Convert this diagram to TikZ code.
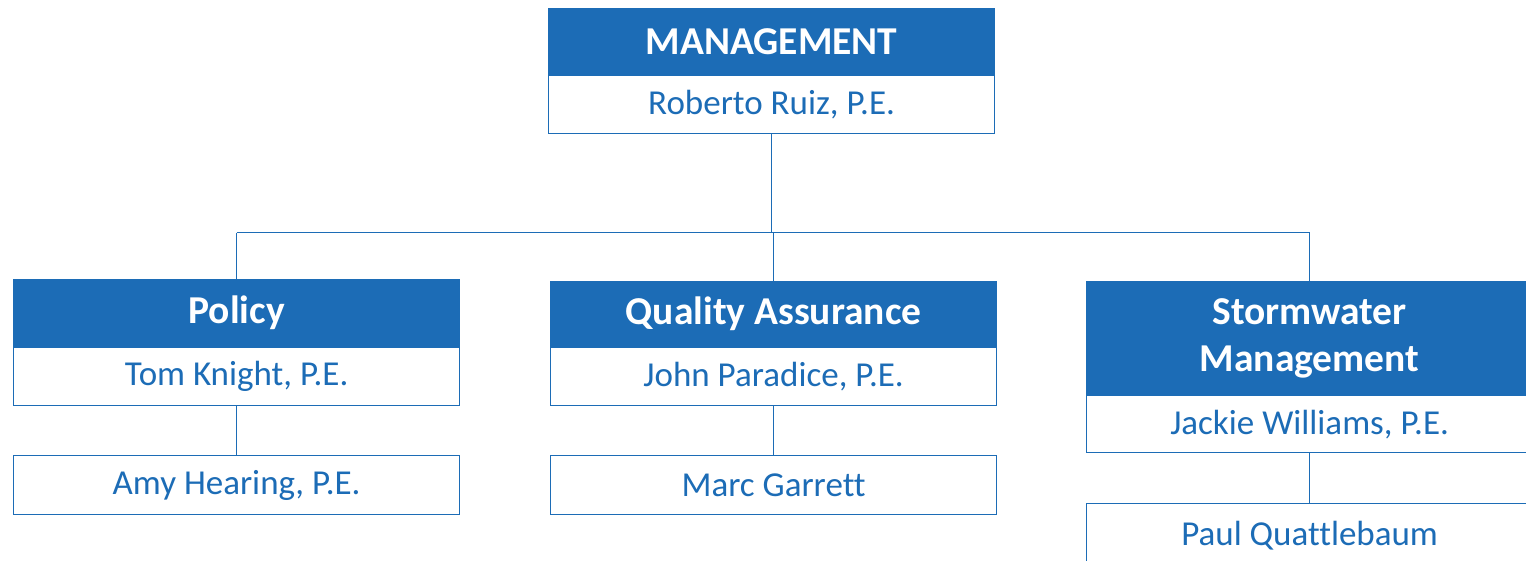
\documentclass[tikz,border=0pt]{standalone}
\usepackage{fontspec}
\setmainfont{Carlito}[Ligatures=NoCommon]
\usepackage{xcolor}
\usetikzlibrary{positioning}
\definecolor{orgblue}{RGB}{28,108,182}
\tikzset{
  headbox/.style={draw=orgblue, fill=orgblue, text=white, line width=1.2pt,
    minimum width=446pt, minimum height=66pt, inner sep=0pt, align=center,
    font=\fontsize{39.5}{47}\selectfont\bfseries},
  personbox/.style={draw=orgblue, fill=white, text=orgblue, line width=1.2pt,
    minimum width=446pt, minimum height=58pt, inner sep=0pt,
    font=\fontsize{35}{40}\selectfont},
  link/.style={draw=orgblue, line width=1pt}
}

\begin{document}
\begin{tikzpicture}[x=1pt, y=-1pt]
  \useasboundingbox (0,0) rectangle (1526,561);
  % top
  \node[headbox, anchor=north west] (mgmt) at (548,8) {MANAGEMENT};
  \node[personbox, below=0pt of mgmt] (mgmtName) {Roberto Ruiz, P.E.};
  % departments
  \node[headbox, anchor=north west, minimum height=67pt] (policy) at (13,279) {Policy};
  \node[personbox, below=0pt of policy] (policyName) {Tom Knight, P.E.};
  \node[personbox, anchor=north west, minimum height=59pt] (amy) at (13,455) {Amy Hearing, P.E.};
  \node[headbox, anchor=north west, minimum height=65pt] (qa) at (550,281) {Quality Assurance};
  \node[personbox, below=0pt of qa] (qaName) {John Paradice, P.E.};
  \node[personbox, anchor=north west, minimum height=59pt] (marc) at (550,455) {Marc Garrett};
  \node[headbox, anchor=north west, minimum height=113pt] (storm) at (1086,281) {Stormwater\\Management};
  \node[personbox, below=0pt of storm, minimum height=57pt] (stormName) {Jackie Williams, P.E.};
  \node[personbox, anchor=north west, minimum height=64pt] (paul) at (1086,503) {Paul Quattlebaum};
  % lines
  \coordinate (bus) at (0,233);
  \draw[link] (mgmtName.south) -- (mgmtName.south |- bus);
  \draw[link] (policy.north |- bus) -- (storm.north |- bus);
  \draw[link] (policy.north |- bus) -- (policy.north);
  \draw[link] (qa.north |- bus) -- (qa.north);
  \draw[link] (storm.north |- bus) -- (storm.north);
  \draw[link] (policyName) -- (amy);
  \draw[link] (qaName) -- (marc);
  \draw[link] (stormName) -- (paul);
\end{tikzpicture}
\end{document}
